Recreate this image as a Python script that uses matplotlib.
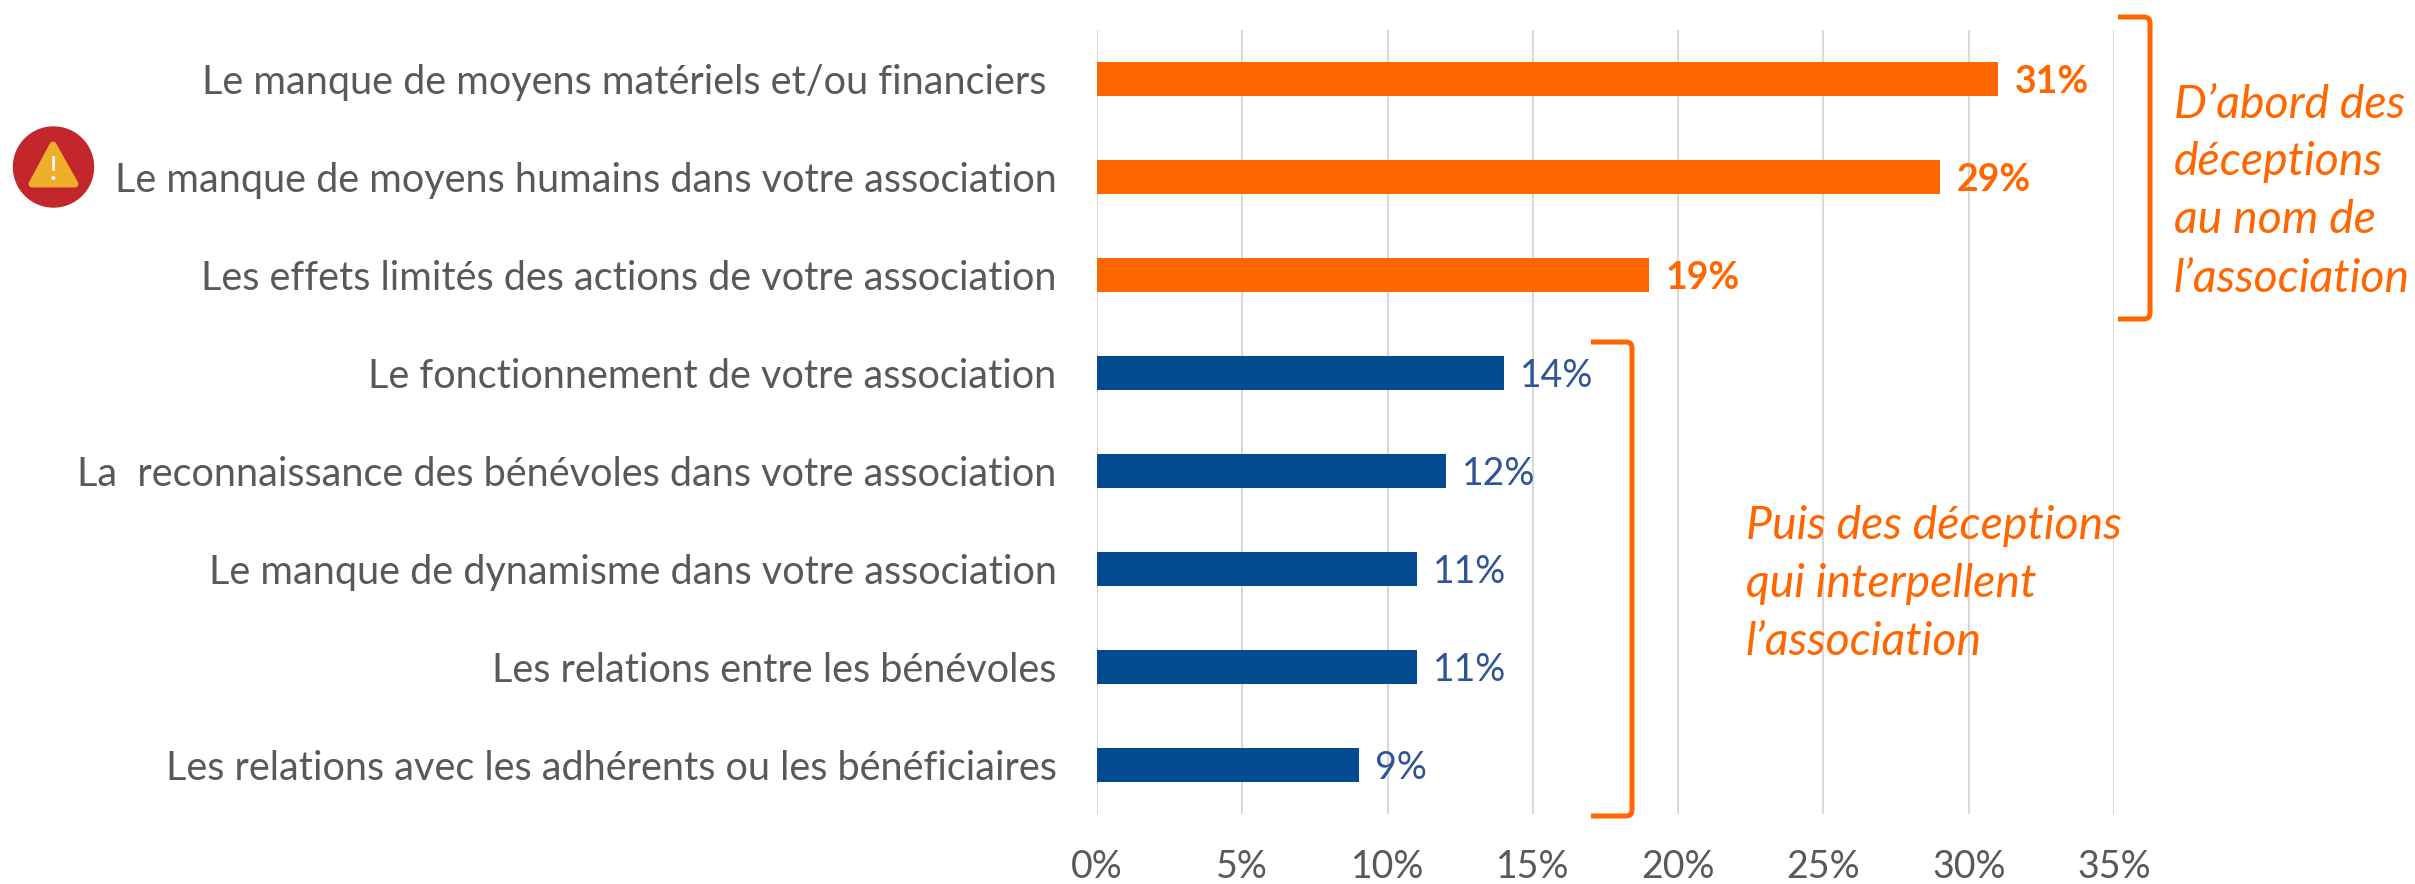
import matplotlib
matplotlib.use('Agg')
import matplotlib.pyplot as plt
from matplotlib.patches import Ellipse, Polygon, PathPatch
from matplotlib.path import Path

plt.rcParams['font.family'] = ['Lato', 'DejaVu Sans']

W, H = 2415, 884

categories = [
    'Le manque de moyens matériels et/ou financiers',
    'Le manque de moyens humains dans votre association',
    'Les effets limités des actions de votre association',
    'Le fonctionnement de votre association',
    'La  reconnaissance des bénévoles dans votre association',
    'Le manque de dynamisme dans votre association',
    'Les relations entre les bénévoles',
    'Les relations avec les adhérents ou les bénéficiaires',
]
values = [31, 29, 19, 14, 12, 11, 11, 9]
x_ticks = [0, 5, 10, 15, 20, 25, 30, 35]
note_top = ['D’abord des', 'déceptions', 'au nom de', 'l’association']
note_bottom = ['Puis des déceptions', 'qui interpellent', 'l’association']

ORANGE = '#FF6600'
BLUE = '#044A91'
BLUE_TXT = '#2F5597'
GREY = '#595959'


def fx(x):
    return x / W


def fy(y):
    return 1 - y / H


fig = plt.figure(figsize=(W / 100, H / 100), dpi=100)
ax = fig.add_axes([fx(1097), fy(814), (2114 - 1097) / W, (814 - 30) / H])

colors = [ORANGE] * 3 + [BLUE] * 5
y_pos = list(range(len(categories)))
ax.barh(y_pos, values, height=0.357, color=colors, zorder=3)

ax.set_xlim(0, 35)
ax.set_ylim(7.5, -0.5)
ax.set_xticks(x_ticks)
ax.set_xticklabels([f'{v}%' for v in x_ticks], fontsize=27, color=GREY)
ax.set_yticks(y_pos)
ax.set_yticklabels(categories, fontsize=28.5, color=GREY)
ax.tick_params(axis='both', length=0)
ax.tick_params(axis='y', pad=29)
ax.tick_params(axis='x', pad=25)
ax.grid(axis='x', color='#D9D9D9', linewidth=1.5, zorder=0)
for s in ax.spines.values():
    s.set_visible(False)

# trailing space of the first label in the original
ax.get_yticklabels()[0].set_x(-0.01)

for i, v in enumerate(values):
    if i < 3:
        ax.annotate(f'{v}%', (v, i), xytext=(12, -2), textcoords='offset points',
                    va='center', fontsize=27, fontweight='bold', color=ORANGE, zorder=5)
    else:
        ax.annotate(f'{v}%', (v, i), xytext=(12, -2), textcoords='offset points',
                    va='center', fontsize=27, color=BLUE_TXT, zorder=5)


def bracket(x0, x1, y0, y1):
    r = 6
    verts = [(x0, y0), (x1 - r, y0), (x1, y0), (x1, y0 + r), (x1, y1 - r), (x1, y1), (x1 - r, y1), (x0, y1)]
    codes = [Path.MOVETO, Path.LINETO, Path.CURVE3, Path.CURVE3, Path.LINETO, Path.CURVE3, Path.CURVE3, Path.LINETO]
    verts = [(fx(a), fy(b)) for a, b in verts]
    fig.add_artist(PathPatch(Path(verts, codes), fill=False, edgecolor=ORANGE, linewidth=3.6,
                             transform=fig.transFigure, capstyle='butt'))


bracket(2118, 2150, 17, 319)
bracket(1591, 1632, 342, 816)

for line, y in zip(note_top, [118, 175, 233, 292]):
    fig.text(fx(2174), fy(y), line, fontsize=33.4, style='italic', color=ORANGE, va='baseline')
for line, y in zip(note_bottom, [539, 597, 655]):
    fig.text(fx(1746), fy(y), line, fontsize=33.4, style='italic', color=ORANGE, va='baseline')

# warning icon next to the second label
fig.add_artist(Ellipse((fx(53.5), fy(167)), 80 / W, 80 / H, color='#C3272B', transform=fig.transFigure))
tri = [(fx(53), fy(145)), (fx(32), fy(184)), (fx(75), fy(184))]
fig.add_artist(Polygon(tri, closed=True, facecolor='#EFAE2C', edgecolor='#EFAE2C', linewidth=5,
                       joinstyle='round', transform=fig.transFigure))
fig.text(fx(53), fy(180), '!', fontsize=24, color='white', ha='center', va='baseline')

fig.savefig('out.png', dpi=100)
